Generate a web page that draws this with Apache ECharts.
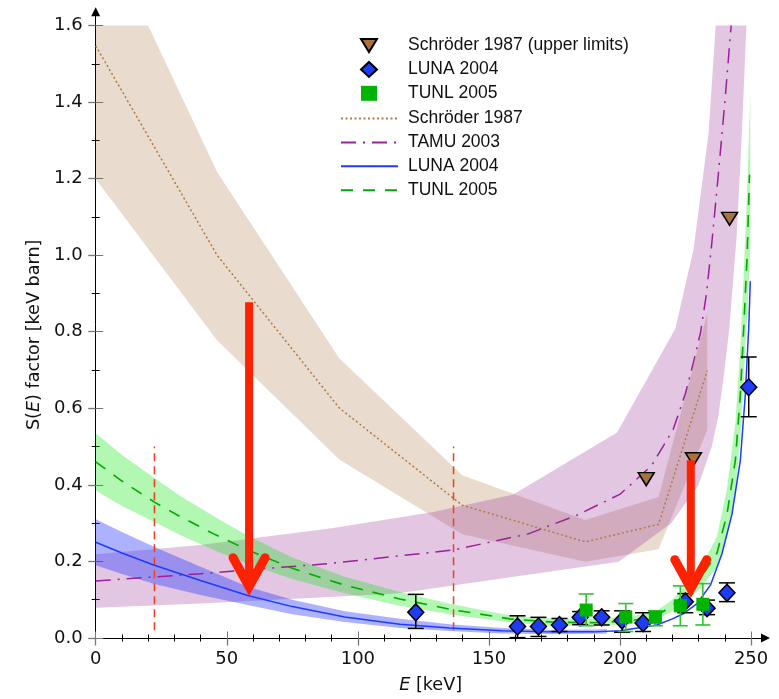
<!DOCTYPE html>
<html><head><meta charset="utf-8">
<script src="https://cdn.jsdelivr.net/npm/echarts@6/dist/echarts.min.js"></script>
<style>html,body{margin:0;padding:0;background:#fff}#c{width:779px;height:699px}</style>
</head><body><div id="c"></div>
<script>
// ---- tick values ----
const xMajorTicks = [0, 50, 100, 150, 200, 250];
const xMinorTicks = [10,20,30,40,60,70,80,90,110,120,130,140,160,170,180,190,210,220,230,240];
const yMajorTicks = [0, 0.2, 0.4, 0.6, 0.8, 1.0, 1.2, 1.4, 1.6];
const yMinorTicks = [0.1, 0.3, 0.5, 0.7, 0.9, 1.1, 1.3, 1.5];

// ---- Schröder 1987 curve and band ----
const schLineE = [0, 46.3, 92.9, 139.8, 186.8, 214.7, 233.3];
const schLineS = [1.547, 1.0, 0.601, 0.347, 0.251, 0.297, 0.699];
const schUpperE = [0, 20, 46.3, 92.9, 139.8, 186.8, 214.7, 233.3];
const schUpperS = [1.6, 1.6, 1.217, 0.731, 0.425, 0.308, 0.368, 0.848];
const schLowerE = [0, 46.3, 92.9, 139.8, 186.8, 214.7, 233.3];
const schLowerS = [1.199, 0.778, 0.466, 0.271, 0.199, 0.232, 0.544];

// ---- TAMU 2003 curve and band ----
const tamuLineE = [0, 40, 90, 136.5, 165, 183.6, 200.1, 212, 220.3, 225, 228, 230.7, 233, 235, 237.5, 240, 242.4];
const tamuLineS = [0.149, 0.168, 0.195, 0.23, 0.272, 0.321, 0.376, 0.45, 0.545, 0.64, 0.72, 0.797, 0.90, 1.03, 1.21, 1.40, 1.6];
const tamuUpperE = [0, 40, 90, 128.9, 159.3, 198.9, 221.1, 228.1, 233.8, 236.5];
const tamuUpperS = [0.219, 0.243, 0.287, 0.329, 0.375, 0.537, 0.808, 1.017, 1.32, 1.6];
const tamuLowerE = [0, 40, 114.9, 199.5, 219.5, 230, 235, 237.5, 239.5, 241.7, 244.5, 246.5, 248.2];
const tamuLowerS = [0.079, 0.09, 0.116, 0.199, 0.30, 0.40, 0.50, 0.58, 0.68, 0.809, 1.05, 1.32, 1.6];

// ---- TUNL 2005 curve and band ----
const tunlFitE = [0,10,22.4,32,45,58,75,95,116,136,158,175,192,205,214,220,225,230,234,237,240.8,244,245.9,247.2,248.5,249.4];
const tunlFitS = [0.46,0.41,0.355,0.318,0.272,0.23,0.182,0.138,0.102,0.074,0.05,0.041,0.040,0.046,0.058,0.085,0.115,0.15,0.19,0.222,0.323,0.464,0.636,0.81,1.0,1.21];
const tunlBandE = [0,10,22.4,32,45,58,75,95,116,136,158,175,192,205,214,220,225,230,234,237,240.8,244,245.9,247.2,248.5,249.7];
const tunlBandHi = [0.535,0.478,0.418,0.372,0.318,0.267,0.21,0.16,0.12,0.088,0.059,0.05,0.05,0.057,0.071,0.10,0.135,0.178,0.225,0.265,0.39,0.56,0.76,0.95,1.17,1.42];
const tunlBandLo = [0.385,0.345,0.303,0.27,0.23,0.194,0.154,0.117,0.084,0.061,0.041,0.032,0.032,0.037,0.047,0.071,0.097,0.125,0.16,0.185,0.265,0.38,0.52,0.68,0.84,1.02];

// ---- LUNA 2004 curve and band ----
const lunaFitE = [0,10,22.4,40,58,75,95,116,135,155,173,190,200,214,220,224.3,229.4,234.5,238.9,242.7,245.9,247.8,249.1,249.7];
const lunaFitS = [0.25,0.222,0.19,0.15,0.111,0.082,0.055,0.036,0.026,0.019,0.016,0.016,0.019,0.034,0.05,0.064,0.09,0.138,0.22,0.323,0.464,0.636,0.81,0.932];
const lunaBandE = [0,10,22.4,40,58,75,95,116,135,155,175,195];
const lunaBandHi = [0.31,0.277,0.238,0.186,0.134,0.1,0.07,0.05,0.036,0.026,0.021,0.023];
const lunaBandLo = [0.19,0.167,0.141,0.112,0.086,0.062,0.042,0.026,0.018,0.012,0.01,0.012];

// ---- data points ----
const lunaE  = [122.1,160.9,168.9,176.9,184.8,193.0,200.8,208.8,224.9,233.2,240.8,249.1];
const lunaS  = [0.067,0.030,0.030,0.034,0.054,0.054,0.046,0.039,0.095,0.078,0.118,0.655];
const lunaHi = [0.114,0.058,0.054,0.051,0.069,0.071,0.071,0.066,0.116,0.099,0.144,0.734];
const lunaLo = [0.025,0.001,0.004,0.017,0.035,0.034,0.015,0.017,0.066,0.061,0.095,0.578];
const tunlE  = [187.1,202.2,213.5,223.0,231.6];
const tunlS  = [0.073,0.055,0.054,0.084,0.088];
const tunlHi = [0.115,0.090,0.071,0.136,0.142];
const tunlLo = [0.032,0.017,0.032,0.032,0.034];
const schE = [210.0, 228.0, 241.8];
const schS = [0.415, 0.467, 1.095];

// ---- annotations ----
const redLineE = [22.4, 136.5];
const redLineLo = [0.02, 0.02];
const redLineHi = [0.5, 0.5];
const arrowE = [58.5, 227.0];
const arrowTop = [0.877, 0.464];
const arrowTip = [0.113, 0.108];

// ---- legend entries ----
const markerLegend = ['Schröder 1987 (upper limits)', 'LUNA 2004', 'TUNL 2005'];
const lineLegend = ['Schröder 1987', 'TAMU 2003', 'LUNA 2004\u200b', 'TUNL 2005\u200b'];

const zip = (a, b) => a.map((v, i) => [v, b[i]]);
const zip3 = (a, b, c) => a.map((v, i) => [v, b[i], c[i]]);

function bandSeries(uE, uS, lE, lS, color) {
  const poly = zip(uE, uS).concat(zip(lE, lS).reverse());
  return {
    type: 'custom', silent: true, data: poly,
    renderItem: function (params, api) {
      if (params.dataIndex !== 0) return null;
      const pts = poly.map(p => api.coord(p));
      return { type: 'polygon', shape: { points: pts }, style: { fill: color, stroke: null } };
    }
  };
}
function errSeries(E, lo, hi, color, capW, lw) {
  return {
    type: 'custom', silent: true, data: zip3(E, lo, hi),
    renderItem: function (params, api) {
      const x = api.value(0);
      const p1 = api.coord([x, api.value(1)]), p2 = api.coord([x, api.value(2)]);
      const h = capW / 2, st = { stroke: color, lineWidth: lw };
      return { type: 'group', children: [
        { type: 'line', shape: { x1: p1[0], y1: p1[1], x2: p2[0], y2: p2[1] }, style: st },
        { type: 'line', shape: { x1: p1[0]-h, y1: p1[1], x2: p1[0]+h, y2: p1[1] }, style: st },
        { type: 'line', shape: { x1: p2[0]-h, y1: p2[1], x2: p2[0]+h, y2: p2[1] }, style: st }
      ]};
    }
  };
}
function lineSeries(name, E, S, color, dash, width, smooth) {
  return {
    type: 'line', name: name, data: zip(E, S), symbol: 'none', showSymbol: false, silent: true,
    smooth: smooth,
    lineStyle: { color: color, width: width, type: dash }, itemStyle: { color: color }, z: 3
  };
}

const FONT_T = 'DejaVu Sans';
const FONT_L = 'Liberation Sans';
const xBase = { type: 'value', min: 0, max: 255.5, interval: 50, position: 'bottom', splitLine: { show: false } };
const yBase = { type: 'value', min: 0, max: 1.636, interval: 0.2, position: 'left', splitLine: { show: false } };
function hiddenAxis(base, vals, len, inside, color) {
  return Object.assign({}, base, {
    axisLine: { show: false }, axisLabel: { show: false },
    axisTick: { show: true, customValues: vals, length: len, inside: inside, lineStyle: { color: color, width: 1 } }
  });
}
const legendText = (pad) => ({ fontSize: 17.5, fontFamily: FONT_L, color: '#111', lineHeight: 15, padding: [0, 0, 0, pad] });

const option = {
  animation: false,
  backgroundColor: '#fff',
  grid: { left: 95.7, right: 13.5, top: 11.7, bottom: 57.5, containLabel: false },
  xAxis: [
    Object.assign({}, xBase, {
      axisLine: { show: true, lineStyle: { color: '#000', width: 1 }, symbol: ['none', 'triangle'], symbolSize: [9, 9] },
      axisTick: { show: true, customValues: xMajorTicks, length: 7.5, lineStyle: { color: '#777', width: 1.3 } },
      axisLabel: { customValues: xMajorTicks, margin: 12, fontSize: 18, fontFamily: FONT_T, color: '#111' },
      name: '{i|E} [keV]', nameLocation: 'middle', nameGap: 38,
      nameTextStyle: { fontSize: 17.6, fontFamily: FONT_T, color: '#111',
        rich: { i: { fontStyle: 'italic', fontSize: 17.6, fontFamily: FONT_T, color: '#111' } } }
    }),
    hiddenAxis(xBase, xMajorTicks, 6.5, true, '#777'),
    hiddenAxis(xBase, xMinorTicks, 3.5, false, '#000'),
    hiddenAxis(xBase, xMinorTicks, 3.5, true, '#000')
  ],
  yAxis: [
    Object.assign({}, yBase, {
      axisLine: { show: true, lineStyle: { color: '#000', width: 1 }, symbol: ['none', 'triangle'], symbolSize: [9, 9] },
      axisTick: { show: true, customValues: yMajorTicks, length: 7.5, lineStyle: { color: '#777', width: 1.3 } },
      axisLabel: { customValues: yMajorTicks, margin: 13, fontSize: 18, fontFamily: FONT_T, color: '#111',
        formatter: v => v.toFixed(1) },
      name: 'S({i|E}) factor [keV barn]', nameLocation: 'middle', nameGap: 52,
      nameTextStyle: { fontSize: 17.6, fontFamily: FONT_T, color: '#111', padding: [0, 20, 0, 0],
        rich: { i: { fontStyle: 'italic', fontSize: 17.6, fontFamily: FONT_T, color: '#111' } } }
    }),
    hiddenAxis(yBase, yMajorTicks, 7.5, true, '#777'),
    hiddenAxis(yBase, yMinorTicks, 4, false, '#000'),
    hiddenAxis(yBase, yMinorTicks, 4, true, '#000')
  ],
  legend: [
    {
      orient: 'vertical', left: 360, top: 36.5, padding: 0, itemWidth: 16, itemHeight: 15, itemGap: 5.9,
      selectedMode: false, textStyle: legendText(26),
      data: [
        { name: markerLegend[0], icon: 'path://M0,0L16,0L8,13Z' },
        { name: markerLegend[1] },
        { name: markerLegend[2] }
      ]
    },
    {
      orient: 'vertical', left: 340, top: 109.5, padding: 0, itemWidth: 57, itemHeight: 15, itemGap: 5.9,
      selectedMode: false, textStyle: legendText(5), itemStyle: { opacity: 0, borderWidth: 0 },
      data: lineLegend.map(n => ({ name: n, itemStyle: { opacity: 0, borderWidth: 0 } }))
    }
  ],
  series: [
    bandSeries(schUpperE, schUpperS, schLowerE, schLowerS, 'rgba(160,100,40,0.23)'),
    bandSeries(tamuUpperE, tamuUpperS, tamuLowerE, tamuLowerS, 'rgba(150,50,150,0.28)'),
    bandSeries(tunlBandE, tunlBandHi, tunlBandE, tunlBandLo, 'rgba(0,230,0,0.30)'),
    bandSeries(lunaBandE, lunaBandHi, lunaBandE, lunaBandLo, 'rgba(50,60,255,0.40)'),
    lineSeries('Schröder 1987', schLineE, schLineS, '#b07a45', [2, 2.5], 1.5, false),
    lineSeries('TAMU 2003', tamuLineE, tamuLineS, '#9b1f9b', [15, 7, 2, 7], 1.5, false),
    lineSeries('LUNA 2004\u200b', lunaFitE, lunaFitS, '#1a3cff', 'solid', 1.5, false),
    lineSeries('TUNL 2005\u200b', tunlFitE, tunlFitS, '#00aa00', [12, 10], 1.6, false),
    {
      type: 'custom', silent: true, z: 3, data: zip3(redLineE, redLineLo, redLineHi),
      renderItem: function (params, api) {
        const a = api.coord([api.value(0), api.value(1)]), b = api.coord([api.value(0), api.value(2)]);
        return { type: 'line', shape: { x1: a[0], y1: a[1], x2: b[0], y2: b[1] },
          style: { stroke: '#ff3a1a', lineWidth: 1.5, lineDash: [8, 5] } };
      }
    },
    Object.assign(errSeries(lunaE, lunaLo, lunaHi, '#000', 16, 1.5), { z: 4 }),
    {
      type: 'scatter', name: 'Schröder 1987 (upper limits)', data: zip(schE, schS), silent: true, z: 5,
      symbol: 'triangle', symbolRotate: 180, symbolSize: [16, 13],
      itemStyle: { color: '#a9733f', borderColor: '#000', borderWidth: 1.5, opacity: 1 }
    },
    {
      type: 'scatter', name: 'LUNA 2004', data: zip(lunaE, lunaS), silent: true, z: 5,
      symbol: 'diamond', symbolSize: [16, 17],
      itemStyle: { color: '#1e3cf5', borderColor: '#000', borderWidth: 1.5, opacity: 1 }
    },
    Object.assign(errSeries(tunlE, tunlLo, tunlHi, '#2ec52e', 15, 1.6), { z: 6 }),
    {
      type: 'scatter', name: 'TUNL 2005', data: zip(tunlE, tunlS), silent: true, z: 6,
      symbol: 'rect', symbolSize: 13, itemStyle: { color: '#00b400', opacity: 1 }
    },
    {
      type: 'custom', silent: true, z: 8, data: zip3(arrowE, arrowTop, arrowTip),
      renderItem: function (params, api) {
        const a = api.coord([api.value(0), api.value(1)]), b = api.coord([api.value(0), api.value(2)]);
        const col = '#ff2200';
        const ap = [b[0], b[1] - 8];
        return { type: 'group', children: [
          { type: 'line', shape: { x1: a[0], y1: a[1], x2: ap[0], y2: ap[1] }, style: { stroke: col, lineWidth: 8, lineCap: 'butt' } },
          { type: 'polyline', shape: { points: [[ap[0]-16, ap[1]-29], ap, [ap[0]+16, ap[1]-29]] },
            style: { stroke: col, lineWidth: 9, lineCap: 'round', lineJoin: 'miter', fill: null } }
        ]};
      }
    }
  ]
};
const chart = echarts.init(document.getElementById('c'), null, { renderer: 'canvas' });
chart.setOption(option);
</script>
</body></html>
